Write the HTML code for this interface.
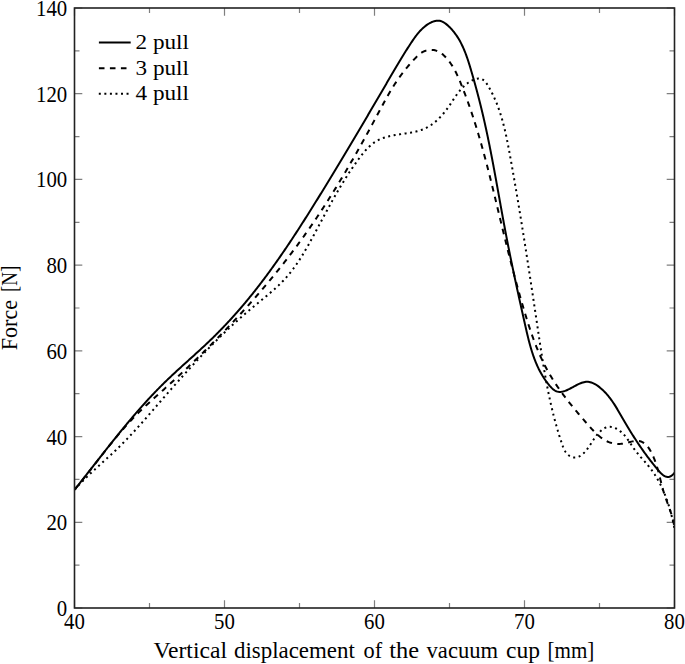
<!DOCTYPE html>
<html><head><meta charset="utf-8"><style>
html,body{margin:0;padding:0;background:#fff;width:685px;height:664px;overflow:hidden}
svg{display:block}
text{font-family:"Liberation Serif",serif;fill:#000}
</style></head><body>
<svg width="685" height="664" viewBox="0 0 685 664">
<path d="M74.50 608.00h7.8M674.50 608.00h-7.8M74.50 565.14h5M674.50 565.14h-5M74.50 522.29h7.8M674.50 522.29h-7.8M74.50 479.43h5M674.50 479.43h-5M74.50 436.57h7.8M674.50 436.57h-7.8M74.50 393.71h5M674.50 393.71h-5M74.50 350.86h7.8M674.50 350.86h-7.8M74.50 308.00h5M674.50 308.00h-5M74.50 265.14h7.8M674.50 265.14h-7.8M74.50 222.29h5M674.50 222.29h-5M74.50 179.43h7.8M674.50 179.43h-7.8M74.50 136.57h5M674.50 136.57h-5M74.50 93.71h7.8M674.50 93.71h-7.8M74.50 50.86h5M674.50 50.86h-5M74.50 8.00h7.8M674.50 8.00h-7.8M74.50 608.00v-7.8M74.50 8.00v7.8M149.50 608.00v-5M149.50 8.00v5M224.50 608.00v-7.8M224.50 8.00v7.8M299.50 608.00v-5M299.50 8.00v5M374.50 608.00v-7.8M374.50 8.00v7.8M449.50 608.00v-5M449.50 8.00v5M524.50 608.00v-7.8M524.50 8.00v7.8M599.50 608.00v-5M599.50 8.00v5M674.50 608.00v-7.8M674.50 8.00v7.8" stroke="#000" stroke-width="1.2" fill="none" opacity="0.5"/>
<text x="67.2" y="615.9" font-size="22.5" text-anchor="end" textLength="10.4" lengthAdjust="spacingAndGlyphs">0</text>
<text x="67.2" y="530.2" font-size="22.5" text-anchor="end" textLength="20.8" lengthAdjust="spacingAndGlyphs">20</text>
<text x="67.2" y="444.5" font-size="22.5" text-anchor="end" textLength="20.8" lengthAdjust="spacingAndGlyphs">40</text>
<text x="67.2" y="358.8" font-size="22.5" text-anchor="end" textLength="20.8" lengthAdjust="spacingAndGlyphs">60</text>
<text x="67.2" y="273.0" font-size="22.5" text-anchor="end" textLength="20.8" lengthAdjust="spacingAndGlyphs">80</text>
<text x="67.2" y="187.3" font-size="22.5" text-anchor="end" textLength="31.2" lengthAdjust="spacingAndGlyphs">100</text>
<text x="67.2" y="101.6" font-size="22.5" text-anchor="end" textLength="31.2" lengthAdjust="spacingAndGlyphs">120</text>
<text x="67.2" y="15.9" font-size="22.5" text-anchor="end" textLength="31.2" lengthAdjust="spacingAndGlyphs">140</text>
<text x="74.5" y="629.3" font-size="22.5" text-anchor="middle" textLength="20.8" lengthAdjust="spacingAndGlyphs">40</text>
<text x="224.5" y="629.3" font-size="22.5" text-anchor="middle" textLength="20.8" lengthAdjust="spacingAndGlyphs">50</text>
<text x="374.5" y="629.3" font-size="22.5" text-anchor="middle" textLength="20.8" lengthAdjust="spacingAndGlyphs">60</text>
<text x="524.5" y="629.3" font-size="22.5" text-anchor="middle" textLength="20.8" lengthAdjust="spacingAndGlyphs">70</text>
<text x="674.5" y="629.3" font-size="22.5" text-anchor="middle" textLength="20.8" lengthAdjust="spacingAndGlyphs">80</text>
<text x="153.60" y="658.3" font-size="22.3" textLength="73.40" lengthAdjust="spacingAndGlyphs">Vertical</text>
<text x="234.00" y="658.3" font-size="22.3" textLength="120.80" lengthAdjust="spacingAndGlyphs">displacement</text>
<text x="363.60" y="658.3" font-size="22.3" textLength="18.60" lengthAdjust="spacingAndGlyphs">of</text>
<text x="389.20" y="658.3" font-size="22.3" textLength="29.80" lengthAdjust="spacingAndGlyphs">the</text>
<text x="426.60" y="658.3" font-size="22.3" textLength="71.40" lengthAdjust="spacingAndGlyphs">vacuum</text>
<text x="506.00" y="658.3" font-size="22.3" textLength="34.00" lengthAdjust="spacingAndGlyphs">cup</text>
<text x="547.60" y="658.3" font-size="22.3" textLength="46.80" lengthAdjust="spacingAndGlyphs">[mm]</text>
<text transform="translate(17.3 350.20) rotate(-90)" font-size="22.3" textLength="50.20" lengthAdjust="spacingAndGlyphs">Force</text>
<text transform="translate(17.3 292.00) rotate(-90)" font-size="22.3" textLength="26.20" lengthAdjust="spacingAndGlyphs">[N]</text>
<clipPath id="cp"><rect x="74.5" y="8.0" width="600.0" height="600.0"/></clipPath>
<path d="M74.61 489.67L75.33 488.76L76.06 487.85L76.78 486.94L77.51 486.03L78.23 485.12L78.95 484.21L79.67 483.30L80.40 482.38L81.12 481.47L81.84 480.56L82.56 479.64L83.28 478.72L84.00 477.81L84.72 476.89L85.44 475.98L86.16 475.06L86.88 474.14L87.60 473.22L88.32 472.31L89.04 471.39L89.75 470.47L90.47 469.55L91.19 468.63L91.91 467.71L92.63 466.79L93.35 465.87L94.07 464.95L94.78 464.03L95.50 463.11L96.22 462.19L96.94 461.27L97.66 460.35L98.38 459.43L99.10 458.51L99.82 457.60L100.54 456.68L101.26 455.76L101.98 454.84L102.70 453.92L103.42 453.00L104.14 452.08L104.87 451.16L105.59 450.25L106.31 449.33L107.04 448.41L107.76 447.50L108.49 446.58L109.21 445.66L109.94 444.75L110.66 443.83L111.39 442.92L112.12 442.01L112.85 441.09L113.58 440.18L114.31 439.27L115.04 438.36L115.77 437.45L116.50 436.54L117.23 435.63L117.97 434.72L118.70 433.81L119.44 432.91L120.17 432.00L120.91 431.09L121.65 430.19L122.39 429.29L123.13 428.38L123.87 427.48L124.62 426.58L125.36 425.68L126.11 424.78L126.85 423.89L127.60 422.99L128.35 422.10L129.10 421.20L129.85 420.31L130.60 419.42L131.35 418.53L132.11 417.64L132.87 416.75L133.62 415.86L134.38 414.98L135.14 414.09L135.91 413.21L136.67 412.33L137.43 411.45L138.20 410.57L138.97 409.70L139.74 408.82L140.51 407.95L141.28 407.07L142.06 406.20L142.83 405.34L143.61 404.47L144.39 403.60L145.17 402.74L145.96 401.88L146.74 401.01L147.53 400.16L148.32 399.30L149.11 398.44L149.90 397.59L150.70 396.74L151.49 395.89L152.29 395.04L153.09 394.20L153.89 393.35L154.70 392.51L155.50 391.67L156.31 390.83L157.12 390.00L157.94 389.16L158.75 388.33L159.57 387.50L160.39 386.67L161.21 385.85L162.03 385.03L162.86 384.21L163.69 383.39L164.52 382.57L165.35 381.76L166.19 380.95L167.03 380.14L167.87 379.33L168.71 378.52L169.55 377.72L170.40 376.92L171.25 376.12L172.10 375.32L172.95 374.53L173.80 373.73L174.65 372.94L175.51 372.15L176.37 371.36L177.23 370.57L178.08 369.78L178.95 368.99L179.81 368.20L180.67 367.42L181.53 366.63L182.40 365.85L183.26 365.07L184.13 364.28L184.99 363.50L185.86 362.72L186.72 361.93L187.59 361.15L188.46 360.37L189.32 359.59L190.19 358.81L191.06 358.02L191.92 357.24L192.79 356.46L193.66 355.68L194.52 354.89L195.39 354.11L196.25 353.32L197.11 352.54L197.98 351.75L198.84 350.96L199.70 350.17L200.56 349.38L201.42 348.59L202.28 347.80L203.13 347.01L203.99 346.21L204.84 345.41L205.69 344.61L206.54 343.81L207.39 343.01L208.24 342.21L209.09 341.40L209.93 340.59L210.77 339.78L211.61 338.97L212.45 338.16L213.28 337.34L214.11 336.52L214.94 335.70L215.77 334.88L216.60 334.05L217.42 333.22L218.25 332.39L219.07 331.56L219.88 330.73L220.70 329.89L221.51 329.06L222.32 328.22L223.13 327.37L223.94 326.53L224.75 325.68L225.55 324.83L226.35 323.98L227.15 323.13L227.95 322.28L228.74 321.42L229.53 320.57L230.32 319.71L231.11 318.84L231.90 317.98L232.68 317.12L233.47 316.25L234.25 315.38L235.02 314.51L235.80 313.64L236.57 312.76L237.34 311.89L238.11 311.01L238.88 310.13L239.65 309.25L240.41 308.36L241.17 307.48L241.93 306.59L242.69 305.70L243.44 304.81L244.19 303.92L244.94 303.03L245.69 302.14L246.44 301.24L247.18 300.34L247.93 299.44L248.67 298.54L249.41 297.64L250.14 296.74L250.88 295.83L251.61 294.92L252.34 294.01L253.07 293.10L253.79 292.19L254.52 291.28L255.24 290.37L255.96 289.45L256.68 288.53L257.40 287.62L258.12 286.70L258.83 285.77L259.54 284.85L260.25 283.93L260.96 283.00L261.67 282.08L262.37 281.15L263.08 280.22L263.78 279.29L264.48 278.36L265.18 277.42L265.87 276.49L266.57 275.55L267.26 274.62L267.95 273.68L268.64 272.74L269.33 271.80L270.02 270.86L270.70 269.92L271.39 268.97L272.07 268.03L272.75 267.08L273.43 266.13L274.11 265.19L274.79 264.24L275.46 263.29L276.14 262.33L276.81 261.38L277.48 260.43L278.15 259.47L278.82 258.52L279.48 257.56L280.15 256.60L280.81 255.65L281.48 254.69L282.14 253.73L282.80 252.77L283.46 251.80L284.12 250.84L284.77 249.88L285.43 248.91L286.08 247.95L286.74 246.98L287.39 246.01L288.04 245.04L288.69 244.08L289.34 243.11L289.99 242.14L290.63 241.16L291.28 240.19L291.92 239.22L292.57 238.25L293.21 237.27L293.85 236.30L294.49 235.32L295.13 234.34L295.77 233.37L296.41 232.39L297.04 231.41L297.68 230.43L298.31 229.45L298.95 228.47L299.58 227.49L300.21 226.51L300.84 225.53L301.47 224.55L302.10 223.56L302.73 222.58L303.36 221.60L303.99 220.61L304.62 219.63L305.24 218.64L305.87 217.66L306.49 216.67L307.12 215.68L307.74 214.70L308.36 213.71L308.98 212.72L309.60 211.73L310.22 210.75L310.85 209.76L311.46 208.77L312.08 207.78L312.70 206.79L313.32 205.80L313.94 204.81L314.55 203.82L315.17 202.82L315.79 201.83L316.40 200.84L317.02 199.85L317.63 198.86L318.25 197.87L318.86 196.87L319.47 195.88L320.09 194.89L320.70 193.89L321.31 192.90L321.92 191.91L322.53 190.91L323.14 189.92L323.75 188.93L324.36 187.93L324.97 186.94L325.58 185.94L326.19 184.95L326.80 183.95L327.41 182.96L328.02 181.96L328.62 180.97L329.23 179.97L329.84 178.97L330.44 177.98L331.05 176.98L331.66 175.98L332.26 174.99L332.87 173.99L333.47 172.99L334.08 172.00L334.68 171.00L335.28 170.00L335.89 169.00L336.49 168.01L337.09 167.01L337.70 166.01L338.30 165.01L338.90 164.01L339.50 163.01L340.10 162.01L340.70 161.01L341.31 160.01L341.91 159.01L342.51 158.01L343.11 157.01L343.71 156.01L344.31 155.01L344.90 154.01L345.50 153.01L346.10 152.01L346.70 151.01L347.30 150.01L347.90 149.01L348.49 148.01L349.09 147.01L349.69 146.00L350.28 145.00L350.88 144.00L351.48 143.00L352.07 142.00L352.67 140.99L353.27 139.99L353.86 138.99L354.46 137.98L355.05 136.98L355.65 135.98L356.24 134.97L356.84 133.97L357.43 132.97L358.02 131.96L358.62 130.96L359.21 129.96L359.81 128.95L360.40 127.95L360.99 126.94L361.59 125.94L362.18 124.93L362.77 123.93L363.36 122.92L363.96 121.92L364.55 120.91L365.14 119.91L365.73 118.90L366.32 117.90L366.92 116.89L367.51 115.88L368.10 114.88L368.69 113.87L369.28 112.87L369.87 111.86L370.46 110.85L371.06 109.85L371.65 108.84L372.24 107.83L372.83 106.82L373.42 105.82L374.01 104.81L374.60 103.80L375.19 102.80L375.78 101.79L376.37 100.78L376.96 99.77L377.55 98.76L378.14 97.76L378.73 96.75L379.32 95.74L379.91 94.73L380.50 93.72L381.09 92.71L381.68 91.71L382.27 90.70L382.85 89.69L383.44 88.68L384.03 87.67L384.62 86.66L385.21 85.65L385.80 84.64L386.39 83.63L386.98 82.62L387.57 81.61L388.16 80.60L388.75 79.59L389.34 78.59L389.93 77.58L390.52 76.57L391.10 75.56L391.69 74.55L392.29 73.54L392.88 72.53L393.47 71.52L394.06 70.51L394.65 69.51L395.24 68.50L395.84 67.49L396.43 66.49L397.03 65.48L397.63 64.48L398.23 63.48L398.82 62.48L399.42 61.48L400.03 60.48L400.63 59.48L401.23 58.49L401.84 57.49L402.45 56.50L403.06 55.51L403.67 54.52L404.28 53.53L404.90 52.55L405.51 51.56L406.13 50.58L406.75 49.60L407.38 48.62L408.00 47.65L408.63 46.68L409.26 45.70L409.89 44.74L410.53 43.77L411.16 42.81L411.80 41.85L412.45 40.89L413.10 39.93L413.75 38.98L414.41 38.04L415.08 37.10L415.77 36.17L416.47 35.25L417.18 34.34L417.91 33.43L418.66 32.54L419.43 31.66L420.22 30.79L421.04 29.94L421.89 29.10L422.76 28.28L423.66 27.47L424.60 26.68L425.57 25.91L426.57 25.16L427.60 24.44L428.66 23.76L429.73 23.12L430.83 22.54L431.93 22.02L433.04 21.57L434.16 21.20L435.27 20.92L436.38 20.73L437.48 20.64L438.56 20.67L439.63 20.81L440.67 21.06L441.70 21.42L442.70 21.86L443.69 22.39L444.66 22.98L445.60 23.65L446.52 24.36L447.43 25.12L448.31 25.91L449.17 26.73L450.00 27.56L450.82 28.41L451.61 29.27L452.38 30.15L453.14 31.03L453.87 31.94L454.58 32.85L455.27 33.78L455.95 34.72L456.61 35.67L457.25 36.63L457.87 37.60L458.48 38.59L459.07 39.58L459.64 40.58L460.20 41.60L460.74 42.62L461.27 43.65L461.79 44.69L462.29 45.73L462.79 46.79L463.26 47.85L463.73 48.92L464.19 49.99L464.63 51.07L465.07 52.16L465.49 53.25L465.91 54.35L466.31 55.45L466.71 56.56L467.10 57.67L467.48 58.78L467.86 59.90L468.23 61.02L468.59 62.14L468.95 63.27L469.30 64.39L469.65 65.52L469.99 66.65L470.33 67.78L470.67 68.91L471.00 70.04L471.34 71.17L471.67 72.30L472.00 73.43L472.32 74.56L472.65 75.69L472.97 76.81L473.29 77.94L473.61 79.07L473.93 80.19L474.25 81.32L474.56 82.44L474.87 83.57L475.19 84.69L475.49 85.82L475.80 86.94L476.11 88.06L476.41 89.19L476.71 90.31L477.01 91.44L477.31 92.56L477.61 93.68L477.90 94.81L478.20 95.93L478.49 97.06L478.78 98.18L479.07 99.30L479.36 100.43L479.64 101.55L479.92 102.68L480.21 103.80L480.49 104.93L480.77 106.05L481.04 107.18L481.32 108.31L481.59 109.44L481.86 110.56L482.13 111.69L482.40 112.82L482.67 113.95L482.93 115.08L483.20 116.21L483.46 117.34L483.72 118.47L483.98 119.61L484.24 120.74L484.49 121.87L484.75 123.01L485.00 124.14L485.25 125.28L485.50 126.41L485.75 127.55L486.00 128.69L486.25 129.83L486.49 130.96L486.74 132.10L486.98 133.24L487.22 134.38L487.46 135.52L487.70 136.66L487.94 137.80L488.17 138.94L488.41 140.09L488.64 141.23L488.87 142.37L489.11 143.52L489.34 144.66L489.57 145.80L489.80 146.95L490.02 148.09L490.25 149.24L490.48 150.38L490.70 151.53L490.93 152.68L491.15 153.82L491.37 154.97L491.59 156.12L491.81 157.26L492.03 158.41L492.25 159.56L492.47 160.71L492.69 161.86L492.91 163.00L493.12 164.15L493.34 165.30L493.56 166.45L493.77 167.60L493.98 168.75L494.20 169.90L494.41 171.05L494.62 172.20L494.83 173.35L495.05 174.50L495.26 175.65L495.47 176.81L495.68 177.96L495.89 179.11L496.10 180.26L496.31 181.41L496.52 182.56L496.72 183.71L496.93 184.86L497.14 186.02L497.35 187.17L497.56 188.32L497.76 189.47L497.97 190.62L498.18 191.77L498.38 192.93L498.59 194.08L498.80 195.23L499.00 196.38L499.21 197.53L499.42 198.68L499.63 199.83L499.83 200.99L500.04 202.14L500.25 203.29L500.45 204.44L500.66 205.59L500.87 206.74L501.08 207.89L501.28 209.04L501.49 210.19L501.70 211.34L501.91 212.49L502.12 213.64L502.33 214.79L502.53 215.94L502.74 217.09L502.95 218.24L503.17 219.38L503.38 220.53L503.59 221.68L503.80 222.83L504.01 223.98L504.22 225.12L504.44 226.27L504.65 227.42L504.87 228.56L505.08 229.71L505.30 230.85L505.51 232.00L505.73 233.14L505.95 234.29L506.17 235.43L506.39 236.57L506.61 237.72L506.83 238.86L507.05 240.00L507.27 241.14L507.49 242.29L507.72 243.43L507.94 244.57L508.16 245.71L508.39 246.85L508.62 247.99L508.84 249.13L509.07 250.27L509.30 251.41L509.53 252.55L509.76 253.69L509.99 254.83L510.22 255.97L510.45 257.10L510.68 258.24L510.91 259.38L511.15 260.52L511.38 261.66L511.61 262.80L511.85 263.93L512.08 265.07L512.32 266.21L512.56 267.35L512.79 268.48L513.03 269.62L513.27 270.76L513.51 271.89L513.75 273.03L513.99 274.17L514.23 275.31L514.47 276.44L514.71 277.58L514.95 278.72L515.20 279.85L515.44 280.99L515.68 282.13L515.93 283.27L516.17 284.40L516.42 285.54L516.66 286.68L516.91 287.82L517.15 288.95L517.40 290.09L517.65 291.23L517.90 292.37L518.15 293.51L518.39 294.65L518.64 295.79L518.89 296.92L519.14 298.06L519.39 299.20L519.64 300.34L519.90 301.48L520.15 302.62L520.40 303.77L520.65 304.91L520.91 306.05L521.16 307.19L521.41 308.33L521.67 309.47L521.92 310.62L522.18 311.76L522.43 312.90L522.69 314.05L522.94 315.19L523.20 316.33L523.46 317.48L523.71 318.62L523.97 319.77L524.23 320.92L524.49 322.06L524.74 323.21L525.00 324.36L525.26 325.51L525.52 326.65L525.78 327.80L526.04 328.95L526.31 330.10L526.57 331.25L526.84 332.40L527.11 333.54L527.38 334.69L527.65 335.84L527.93 336.98L528.21 338.12L528.49 339.27L528.78 340.41L529.08 341.54L529.38 342.68L529.68 343.82L529.99 344.95L530.30 346.08L530.62 347.20L530.95 348.33L531.28 349.45L531.62 350.57L531.97 351.68L532.33 352.80L532.69 353.90L533.06 355.01L533.44 356.11L533.83 357.20L534.23 358.30L534.63 359.38L535.05 360.47L535.48 361.54L535.91 362.62L536.36 363.69L536.82 364.75L537.29 365.81L537.77 366.86L538.26 367.90L538.76 368.95L539.28 369.98L539.81 371.01L540.36 372.03L540.91 373.04L541.48 374.05L542.07 375.05L542.66 376.05L543.28 377.03L543.90 378.01L544.55 378.99L545.21 379.95L545.88 380.91L546.57 381.85L547.28 382.79L548.00 383.73L548.74 384.65L549.50 385.56L550.28 386.45L551.07 387.32L551.89 388.14L552.73 388.92L553.60 389.63L554.49 390.26L555.41 390.81L556.36 391.27L557.34 391.62L558.35 391.86L559.39 391.96L560.46 391.95L561.56 391.83L562.68 391.61L563.82 391.30L564.97 390.91L566.12 390.47L567.28 389.96L568.44 389.42L569.60 388.85L570.74 388.25L571.88 387.65L573.00 387.04L574.12 386.43L575.23 385.84L576.33 385.25L577.43 384.69L578.52 384.16L579.60 383.67L580.68 383.22L581.75 382.81L582.82 382.47L583.89 382.18L584.95 381.97L586.02 381.83L587.08 381.78L588.14 381.82L589.20 381.95L590.26 382.17L591.31 382.48L592.36 382.86L593.41 383.31L594.44 383.83L595.46 384.40L596.47 385.02L597.46 385.69L598.44 386.40L599.40 387.13L600.33 387.90L601.25 388.68L602.14 389.47L603.01 390.28L603.87 391.11L604.70 391.95L605.51 392.81L606.30 393.67L607.08 394.55L607.84 395.45L608.58 396.35L609.31 397.27L610.02 398.19L610.72 399.12L611.41 400.07L612.09 401.02L612.75 401.98L613.40 402.95L614.04 403.92L614.68 404.91L615.30 405.89L615.92 406.89L616.53 407.88L617.13 408.88L617.73 409.89L618.32 410.89L618.91 411.90L619.50 412.91L620.09 413.93L620.67 414.94L621.25 415.95L621.83 416.97L622.41 417.98L623.00 418.99L623.58 419.99L624.17 421.00L624.76 422.01L625.35 423.01L625.94 424.01L626.54 425.01L627.13 426.01L627.73 427.00L628.33 428.00L628.93 428.99L629.54 429.98L630.14 430.97L630.75 431.96L631.37 432.95L631.98 433.93L632.60 434.91L633.22 435.89L633.84 436.87L634.47 437.85L635.10 438.83L635.73 439.80L636.36 440.77L637.00 441.74L637.65 442.71L638.29 443.68L638.94 444.64L639.59 445.61L640.25 446.57L640.91 447.53L641.57 448.49L642.24 449.44L642.91 450.40L643.59 451.35L644.27 452.30L644.95 453.25L645.64 454.20L646.34 455.14L647.03 456.09L647.74 457.03L648.44 457.97L649.15 458.91L649.87 459.84L650.59 460.78L651.32 461.71L652.05 462.64L652.79 463.57L653.53 464.50L654.27 465.42L655.03 466.34L655.78 467.27L656.55 468.18L657.32 469.10L658.09 470.02L658.87 470.93L659.66 471.83L660.46 472.71L661.27 473.55L662.09 474.33L662.94 475.04L663.80 475.66L664.69 476.18L665.60 476.58L666.54 476.85L667.52 476.97L668.52 476.92L669.54 476.70L670.58 476.28L671.63 475.66L672.68 474.83L673.74 473.75L674.78 472.43" fill="none" stroke="#000" stroke-width="2.0" clip-path="url(#cp)"/>
<path d="M74.54 489.64L75.28 488.76L76.01 487.88L76.74 487.00L77.47 486.12L78.19 485.23L78.92 484.35L79.64 483.46L80.36 482.57L81.08 481.68L81.80 480.79L82.52 479.90L83.23 479.00L83.94 478.11L84.66 477.21L85.37 476.32L86.08 475.42L86.79 474.52L87.50 473.62L88.20 472.72L88.91 471.82L89.61 470.92L90.32 470.02L91.02 469.12L91.73 468.21L92.43 467.31L93.13 466.41L93.84 465.50L94.54 464.60L95.24 463.70L95.94 462.79L96.64 461.89L97.35 460.99L98.05 460.08L98.75 459.18L99.45 458.28L100.15 457.37L100.86 456.47L101.56 455.57L102.26 454.67L102.97 453.77L103.67 452.87L104.38 451.97L105.09 451.07L105.79 450.17L106.50 449.27L107.21 448.38L107.92 447.48L108.63 446.59L109.35 445.69L110.06 444.80L110.77 443.91L111.49 443.02L112.21 442.13L112.93 441.25L113.65 440.36L114.37 439.48L115.10 438.60L115.83 437.72L116.55 436.84L117.28 435.96L118.02 435.09L118.75 434.21L119.49 433.34L120.23 432.47L120.97 431.61L121.71 430.74L122.46 429.88L123.21 429.02L123.96 428.16L124.71 427.30L125.47 426.45L126.23 425.60L126.99 424.75L127.76 423.91L128.53 423.06L129.30 422.22L130.07 421.39L130.85 420.55L131.63 419.72L132.42 418.89L133.20 418.07L134.00 417.24L134.79 416.42L135.59 415.61L136.39 414.80L137.20 413.99L138.01 413.18L138.82 412.38L139.64 411.58L140.46 410.78L141.28 409.99L142.11 409.20L142.94 408.41L143.77 407.62L144.61 406.84L145.44 406.06L146.28 405.28L147.12 404.50L147.97 403.72L148.81 402.95L149.66 402.17L150.51 401.40L151.35 400.63L152.20 399.86L153.06 399.10L153.91 398.33L154.76 397.56L155.61 396.79L156.47 396.03L157.32 395.26L158.18 394.50L159.03 393.73L159.88 392.97L160.74 392.20L161.59 391.44L162.44 390.67L163.29 389.90L164.14 389.14L164.99 388.37L165.84 387.60L166.69 386.83L167.54 386.06L168.39 385.29L169.23 384.52L170.08 383.75L170.92 382.98L171.77 382.21L172.61 381.43L173.45 380.66L174.30 379.89L175.14 379.11L175.98 378.34L176.82 377.56L177.66 376.79L178.49 376.01L179.33 375.23L180.17 374.45L181.00 373.67L181.84 372.89L182.67 372.11L183.51 371.33L184.34 370.55L185.17 369.77L186.00 368.99L186.83 368.20L187.66 367.42L188.49 366.63L189.32 365.85L190.15 365.06L190.97 364.28L191.80 363.49L192.62 362.70L193.45 361.91L194.27 361.12L195.09 360.33L195.92 359.54L196.74 358.75L197.56 357.95L198.38 357.16L199.20 356.36L200.01 355.57L200.83 354.77L201.65 353.98L202.46 353.18L203.28 352.38L204.09 351.58L204.91 350.78L205.72 349.98L206.53 349.18L207.34 348.37L208.15 347.57L208.96 346.76L209.77 345.96L210.58 345.15L211.38 344.34L212.19 343.54L212.99 342.73L213.80 341.92L214.60 341.11L215.40 340.29L216.21 339.48L217.01 338.67L217.81 337.85L218.61 337.04L219.40 336.22L220.20 335.40L221.00 334.58L221.79 333.76L222.59 332.94L223.38 332.12L224.18 331.30L224.97 330.48L225.76 329.65L226.55 328.83L227.34 328.00L228.13 327.17L228.92 326.34L229.71 325.51L230.49 324.68L231.28 323.85L232.06 323.02L232.85 322.19L233.63 321.35L234.41 320.52L235.19 319.68L235.97 318.85L236.75 318.01L237.53 317.17L238.30 316.33L239.08 315.49L239.85 314.65L240.63 313.80L241.40 312.96L242.17 312.12L242.94 311.27L243.71 310.42L244.48 309.58L245.25 308.73L246.02 307.88L246.78 307.03L247.55 306.18L248.31 305.32L249.07 304.47L249.83 303.62L250.59 302.76L251.35 301.91L252.11 301.05L252.87 300.19L253.63 299.33L254.38 298.47L255.13 297.61L255.89 296.75L256.64 295.88L257.39 295.02L258.14 294.16L258.89 293.29L259.63 292.42L260.38 291.55L261.12 290.68L261.87 289.81L262.61 288.94L263.35 288.07L264.09 287.20L264.83 286.33L265.57 285.45L266.31 284.57L267.04 283.70L267.78 282.82L268.51 281.94L269.24 281.06L269.97 280.18L270.70 279.30L271.43 278.42L272.16 277.53L272.88 276.65L273.61 275.76L274.33 274.87L275.05 273.99L275.77 273.10L276.49 272.21L277.21 271.32L277.93 270.43L278.64 269.53L279.36 268.64L280.07 267.74L280.78 266.85L281.49 265.95L282.20 265.05L282.91 264.16L283.62 263.26L284.32 262.35L285.02 261.45L285.73 260.55L286.43 259.65L287.13 258.74L287.83 257.84L288.52 256.93L289.22 256.02L289.91 255.11L290.61 254.20L291.30 253.29L291.99 252.38L292.68 251.47L293.36 250.55L294.05 249.64L294.73 248.72L295.42 247.81L296.10 246.89L296.78 245.97L297.46 245.05L298.14 244.13L298.81 243.21L299.49 242.28L300.16 241.36L300.83 240.44L301.50 239.51L302.17 238.58L302.84 237.65L303.50 236.73L304.17 235.80L304.83 234.86L305.49 233.93L306.15 233.00L306.81 232.07L307.46 231.13L308.12 230.19L308.77 229.26L309.43 228.32L310.08 227.38L310.73 226.44L311.37 225.50L312.02 224.56L312.67 223.62L313.31 222.67L313.95 221.73L314.59 220.78L315.23 219.84L315.87 218.89L316.51 217.94L317.15 216.99L317.78 216.04L318.41 215.09L319.05 214.14L319.68 213.19L320.31 212.23L320.93 211.28L321.56 210.32L322.19 209.37L322.81 208.41L323.43 207.45L324.05 206.49L324.67 205.53L325.29 204.57L325.91 203.61L326.53 202.65L327.14 201.69L327.76 200.73L328.37 199.76L328.98 198.80L329.59 197.83L330.20 196.86L330.81 195.90L331.42 194.93L332.02 193.96L332.63 192.99L333.23 192.02L333.84 191.05L334.44 190.08L335.04 189.11L335.64 188.13L336.24 187.16L336.83 186.18L337.43 185.21L338.02 184.23L338.62 183.26L339.21 182.28L339.80 181.30L340.39 180.32L340.98 179.34L341.57 178.36L342.16 177.38L342.75 176.40L343.33 175.42L343.92 174.44L344.50 173.45L345.08 172.47L345.67 171.49L346.25 170.50L346.83 169.52L347.41 168.53L347.98 167.54L348.56 166.55L349.14 165.57L349.71 164.58L350.29 163.59L350.86 162.60L351.43 161.61L352.01 160.62L352.58 159.63L353.15 158.64L353.72 157.64L354.29 156.65L354.85 155.66L355.42 154.66L355.99 153.67L356.55 152.67L357.12 151.68L357.68 150.68L358.24 149.69L358.80 148.69L359.37 147.69L359.93 146.70L360.49 145.70L361.04 144.70L361.60 143.70L362.16 142.70L362.72 141.70L363.27 140.70L363.83 139.70L364.38 138.70L364.94 137.70L365.49 136.70L366.04 135.69L366.60 134.69L367.15 133.69L367.70 132.68L368.25 131.68L368.80 130.68L369.35 129.67L369.89 128.67L370.44 127.66L370.99 126.66L371.54 125.65L372.08 124.64L372.63 123.64L373.17 122.63L373.72 121.62L374.26 120.62L374.80 119.61L375.34 118.60L375.89 117.59L376.43 116.58L376.97 115.58L377.51 114.57L378.05 113.56L378.59 112.55L379.13 111.54L379.67 110.53L380.21 109.52L380.75 108.51L381.29 107.50L381.83 106.49L382.37 105.48L382.91 104.48L383.46 103.47L384.00 102.47L384.55 101.47L385.10 100.46L385.65 99.46L386.21 98.47L386.77 97.47L387.33 96.48L387.89 95.48L388.46 94.49L389.03 93.51L389.60 92.52L390.18 91.54L390.76 90.56L391.35 89.59L391.94 88.61L392.53 87.64L393.14 86.68L393.74 85.72L394.35 84.76L394.97 83.80L395.60 82.85L396.22 81.91L396.86 80.96L397.50 80.02L398.15 79.09L398.80 78.16L399.46 77.23L400.13 76.31L400.80 75.39L401.48 74.47L402.17 73.56L402.86 72.65L403.56 71.75L404.27 70.84L404.98 69.95L405.70 69.05L406.43 68.16L407.16 67.27L407.91 66.39L408.65 65.51L409.41 64.63L410.18 63.75L410.95 62.88L411.73 62.01L412.51 61.15L413.31 60.29L414.11 59.43L414.92 58.57L415.74 57.72L416.58 56.88L417.42 56.06L418.28 55.27L419.16 54.50L420.06 53.78L420.98 53.10L421.93 52.47L422.91 51.90L423.92 51.40L424.95 50.97L426.02 50.60L427.10 50.31L428.21 50.09L429.33 49.95L430.45 49.87L431.58 49.87L432.71 49.94L433.83 50.08L434.94 50.30L436.03 50.59L437.11 50.95L438.16 51.39L439.18 51.90L440.17 52.49L441.13 53.14L442.05 53.85L442.95 54.61L443.82 55.40L444.66 56.21L445.47 57.04L446.26 57.88L447.03 58.74L447.77 59.62L448.50 60.51L449.20 61.41L449.88 62.32L450.54 63.25L451.18 64.19L451.81 65.13L452.42 66.09L453.01 67.06L453.58 68.04L454.14 69.03L454.69 70.03L455.22 71.03L455.74 72.04L456.25 73.06L456.75 74.09L457.23 75.12L457.71 76.16L458.18 77.20L458.64 78.25L459.10 79.30L459.54 80.35L459.99 81.41L460.42 82.46L460.86 83.53L461.28 84.59L461.71 85.65L462.14 86.71L462.56 87.78L462.97 88.85L463.39 89.91L463.80 90.98L464.21 92.05L464.62 93.12L465.03 94.19L465.43 95.26L465.83 96.33L466.23 97.40L466.62 98.48L467.02 99.55L467.41 100.63L467.80 101.71L468.18 102.78L468.56 103.86L468.94 104.94L469.32 106.02L469.70 107.10L470.07 108.18L470.45 109.26L470.81 110.34L471.18 111.43L471.55 112.51L471.91 113.60L472.27 114.68L472.63 115.77L472.99 116.86L473.34 117.94L473.69 119.03L474.04 120.12L474.39 121.21L474.74 122.30L475.08 123.39L475.43 124.48L475.77 125.57L476.11 126.67L476.44 127.76L476.78 128.85L477.11 129.95L477.44 131.04L477.77 132.14L478.10 133.24L478.43 134.33L478.75 135.43L479.08 136.53L479.40 137.63L479.72 138.72L480.04 139.82L480.36 140.92L480.67 142.02L480.98 143.12L481.30 144.23L481.61 145.33L481.92 146.43L482.23 147.53L482.53 148.63L482.84 149.74L483.14 150.84L483.44 151.95L483.74 153.05L484.04 154.15L484.34 155.26L484.64 156.37L484.94 157.47L485.23 158.58L485.53 159.68L485.82 160.79L486.11 161.90L486.40 163.01L486.69 164.11L486.98 165.22L487.27 166.33L487.55 167.44L487.84 168.55L488.13 169.66L488.41 170.77L488.69 171.88L488.97 172.99L489.26 174.10L489.54 175.21L489.82 176.32L490.09 177.43L490.37 178.54L490.65 179.65L490.93 180.76L491.20 181.87L491.48 182.98L491.75 184.09L492.03 185.20L492.30 186.32L492.57 187.43L492.84 188.54L493.12 189.65L493.39 190.76L493.66 191.87L493.93 192.99L494.20 194.10L494.47 195.21L494.74 196.32L495.01 197.43L495.28 198.55L495.54 199.66L495.81 200.77L496.08 201.88L496.35 202.99L496.61 204.11L496.88 205.22L497.15 206.33L497.41 207.44L497.68 208.55L497.95 209.67L498.21 210.78L498.48 211.89L498.75 213.00L499.01 214.11L499.28 215.22L499.55 216.33L499.81 217.44L500.08 218.55L500.35 219.66L500.62 220.77L500.88 221.88L501.15 222.99L501.42 224.10L501.69 225.21L501.95 226.32L502.22 227.43L502.49 228.54L502.76 229.65L503.03 230.75L503.30 231.86L503.57 232.97L503.84 234.08L504.11 235.19L504.38 236.29L504.65 237.40L504.92 238.51L505.20 239.61L505.47 240.72L505.74 241.83L506.02 242.93L506.29 244.04L506.56 245.15L506.84 246.25L507.11 247.36L507.39 248.46L507.67 249.57L507.94 250.67L508.22 251.78L508.50 252.88L508.78 253.99L509.06 255.09L509.34 256.20L509.62 257.30L509.90 258.41L510.18 259.51L510.46 260.62L510.75 261.72L511.03 262.83L511.32 263.93L511.60 265.03L511.89 266.14L512.17 267.24L512.46 268.35L512.75 269.45L513.04 270.55L513.33 271.66L513.62 272.76L513.91 273.86L514.21 274.97L514.50 276.07L514.79 277.17L515.09 278.28L515.38 279.38L515.68 280.48L515.98 281.59L516.28 282.69L516.58 283.79L516.88 284.90L517.18 286.00L517.48 287.10L517.79 288.21L518.09 289.31L518.40 290.41L518.71 291.52L519.01 292.62L519.32 293.72L519.63 294.83L519.94 295.93L520.26 297.03L520.57 298.14L520.88 299.24L521.20 300.35L521.52 301.45L521.84 302.55L522.15 303.66L522.48 304.76L522.80 305.86L523.12 306.97L523.44 308.07L523.77 309.18L524.10 310.28L524.43 311.38L524.76 312.49L525.09 313.59L525.42 314.69L525.76 315.80L526.09 316.90L526.43 318.00L526.77 319.10L527.12 320.20L527.46 321.30L527.81 322.40L528.16 323.50L528.51 324.60L528.87 325.70L529.22 326.79L529.58 327.89L529.95 328.98L530.31 330.07L530.68 331.16L531.05 332.25L531.43 333.34L531.81 334.43L532.19 335.51L532.57 336.60L532.96 337.68L533.35 338.76L533.75 339.84L534.15 340.91L534.55 341.98L534.96 343.06L535.37 344.13L535.79 345.19L536.21 346.26L536.63 347.32L537.06 348.38L537.49 349.44L537.93 350.50L538.37 351.55L538.82 352.60L539.27 353.65L539.73 354.69L540.19 355.73L540.65 356.77L541.13 357.81L541.60 358.84L542.08 359.87L542.57 360.89L543.07 361.92L543.56 362.93L544.07 363.95L544.58 364.96L545.09 365.97L545.61 366.98L546.14 367.98L546.68 368.97L547.22 369.97L547.76 370.96L548.31 371.94L548.87 372.92L549.44 373.90L550.01 374.88L550.58 375.85L551.16 376.82L551.75 377.78L552.34 378.74L552.94 379.70L553.54 380.65L554.15 381.60L554.77 382.55L555.39 383.50L556.01 384.44L556.64 385.38L557.28 386.32L557.92 387.25L558.56 388.18L559.21 389.11L559.87 390.04L560.53 390.96L561.19 391.88L561.86 392.80L562.53 393.72L563.20 394.64L563.89 395.55L564.57 396.46L565.26 397.37L565.95 398.28L566.65 399.18L567.35 400.09L568.05 400.99L568.76 401.89L569.47 402.79L570.19 403.69L570.91 404.59L571.63 405.48L572.36 406.38L573.09 407.27L573.82 408.17L574.55 409.06L575.29 409.95L576.03 410.84L576.78 411.73L577.52 412.62L578.27 413.51L579.03 414.40L579.78 415.28L580.54 416.17L581.30 417.06L582.06 417.95L582.82 418.83L583.59 419.72L584.36 420.61L585.13 421.49L585.90 422.38L586.68 423.27L587.45 424.16L588.23 425.04L589.01 425.93L589.80 426.81L590.58 427.69L591.38 428.56L592.17 429.42L592.98 430.27L593.78 431.11L594.60 431.94L595.42 432.75L596.25 433.55L597.09 434.33L597.93 435.09L598.79 435.83L599.66 436.54L600.53 437.24L601.42 437.90L602.32 438.54L603.23 439.15L604.15 439.73L605.09 440.28L606.04 440.80L607.00 441.28L607.98 441.73L608.97 442.13L609.98 442.50L611.00 442.83L612.04 443.12L613.09 443.36L614.16 443.57L615.24 443.73L616.33 443.85L617.43 443.92L618.55 443.95L619.68 443.93L620.81 443.86L621.96 443.75L623.12 443.59L624.30 443.38L625.47 443.12L626.66 442.84L627.84 442.54L629.02 442.23L630.20 441.93L631.37 441.64L632.52 441.37L633.66 441.14L634.79 440.96L635.89 440.84L636.97 440.79L638.02 440.82L639.03 440.95L640.02 441.17L640.98 441.47L641.90 441.86L642.80 442.33L643.66 442.87L644.50 443.48L645.31 444.17L646.09 444.91L646.85 445.71L647.58 446.56L648.28 447.47L648.96 448.42L649.61 449.41L650.24 450.44L650.85 451.50L651.43 452.59L651.99 453.70L652.53 454.84L653.05 455.98L653.54 457.14L654.02 458.31L654.48 459.48L654.91 460.65L655.33 461.81L655.74 462.96L656.12 464.11L656.49 465.24L656.85 466.37L657.19 467.48L657.52 468.59L657.83 469.70L658.14 470.79L658.44 471.88L658.73 472.97L659.01 474.04L659.28 475.12L659.55 476.19L659.82 477.26L660.08 478.32L660.34 479.38L660.61 480.44L660.87 481.50L661.13 482.55L661.39 483.61L661.66 484.66L661.93 485.72L662.21 486.78L662.49 487.84L662.78 488.90L663.08 489.96L663.39 491.03L663.71 492.10L664.05 493.17L664.39 494.25L664.75 495.33L665.11 496.42L665.49 497.51L665.88 498.61L666.27 499.70L666.66 500.80L667.07 501.91L667.47 503.01L667.87 504.12L668.28 505.23L668.68 506.34L669.08 507.46L669.48 508.57L669.87 509.68L670.26 510.80L670.63 511.92L671.00 513.03L671.36 514.15L671.70 515.26L672.04 516.37L672.35 517.49L672.66 518.60L672.94 519.70L673.21 520.81L673.45 521.92L673.68 523.02L673.88 524.12L674.06 525.21L674.21 526.30L674.34 527.39L674.44 528.48" fill="none" stroke="#000" stroke-width="2.0" stroke-dasharray="5.6 5.4" clip-path="url(#cp)"/>
<path d="M74.57 489.66L75.34 488.79L76.13 487.93L76.91 487.07L77.71 486.22L78.51 485.37L79.31 484.53L80.11 483.69L80.92 482.85L81.74 482.02L82.56 481.19L83.38 480.37L84.21 479.55L85.04 478.73L85.87 477.92L86.70 477.11L87.54 476.30L88.38 475.49L89.23 474.69L90.07 473.88L90.92 473.08L91.77 472.29L92.62 471.49L93.48 470.70L94.34 469.91L95.19 469.11L96.05 468.33L96.91 467.54L97.77 466.75L98.63 465.96L99.50 465.18L100.36 464.39L101.22 463.61L102.09 462.82L102.95 462.04L103.81 461.25L104.68 460.47L105.54 459.68L106.40 458.89L107.26 458.11L108.12 457.32L108.98 456.53L109.84 455.74L110.70 454.95L111.55 454.15L112.41 453.36L113.26 452.56L114.11 451.77L114.96 450.97L115.80 450.16L116.64 449.36L117.48 448.55L118.32 447.74L119.15 446.93L119.98 446.11L120.81 445.29L121.64 444.47L122.46 443.65L123.28 442.82L124.10 441.99L124.91 441.16L125.72 440.33L126.53 439.49L127.34 438.65L128.14 437.81L128.94 436.97L129.74 436.12L130.54 435.27L131.33 434.42L132.13 433.57L132.92 432.72L133.71 431.86L134.50 431.01L135.28 430.15L136.06 429.29L136.85 428.43L137.63 427.56L138.41 426.70L139.18 425.83L139.96 424.96L140.74 424.09L141.51 423.22L142.28 422.35L143.05 421.48L143.82 420.61L144.59 419.73L145.36 418.86L146.13 417.98L146.89 417.10L147.66 416.23L148.43 415.35L149.19 414.47L149.95 413.59L150.72 412.71L151.48 411.83L152.24 410.95L153.01 410.06L153.77 409.18L154.53 408.30L155.29 407.42L156.05 406.54L156.81 405.66L157.58 404.77L158.34 403.89L159.10 403.01L159.86 402.13L160.63 401.25L161.39 400.37L162.15 399.49L162.92 398.61L163.68 397.72L164.45 396.85L165.21 395.97L165.98 395.09L166.74 394.21L167.51 393.33L168.28 392.45L169.04 391.57L169.81 390.70L170.58 389.82L171.35 388.95L172.12 388.07L172.89 387.19L173.66 386.32L174.43 385.45L175.20 384.57L175.97 383.70L176.75 382.83L177.52 381.96L178.29 381.09L179.07 380.22L179.84 379.35L180.62 378.48L181.40 377.61L182.17 376.74L182.95 375.88L183.73 375.01L184.51 374.14L185.29 373.28L186.08 372.42L186.86 371.55L187.64 370.69L188.43 369.83L189.21 368.97L190.00 368.11L190.78 367.25L191.57 366.40L192.36 365.54L193.15 364.68L193.94 363.83L194.73 362.98L195.52 362.12L196.32 361.27L197.11 360.42L197.91 359.57L198.71 358.72L199.50 357.88L200.30 357.03L201.10 356.18L201.90 355.34L202.71 354.50L203.51 353.66L204.31 352.82L205.12 351.98L205.93 351.14L206.74 350.30L207.54 349.47L208.36 348.63L209.17 347.80L209.98 346.97L210.79 346.14L211.61 345.31L212.43 344.48L213.25 343.65L214.07 342.83L214.89 342.01L215.71 341.18L216.53 340.36L217.36 339.54L218.19 338.73L219.01 337.91L219.84 337.10L220.67 336.28L221.51 335.47L222.34 334.66L223.18 333.85L224.01 333.05L224.85 332.24L225.69 331.44L226.53 330.63L227.38 329.83L228.22 329.04L229.07 328.24L229.92 327.44L230.77 326.65L231.62 325.86L232.47 325.07L233.33 324.28L234.18 323.49L235.04 322.71L235.90 321.93L236.76 321.14L237.63 320.37L238.49 319.59L239.36 318.81L240.23 318.04L241.10 317.27L241.97 316.50L242.85 315.73L243.72 314.97L244.60 314.20L245.48 313.44L246.36 312.68L247.25 311.92L248.13 311.17L249.02 310.41L249.91 309.66L250.80 308.91L251.70 308.17L252.59 307.42L253.49 306.68L254.39 305.94L255.29 305.20L256.20 304.46L257.10 303.72L258.00 302.99L258.91 302.25L259.81 301.52L260.72 300.78L261.62 300.05L262.52 299.31L263.43 298.57L264.33 297.83L265.22 297.09L266.12 296.35L267.02 295.61L267.91 294.86L268.80 294.11L269.69 293.36L270.57 292.61L271.45 291.85L272.33 291.09L273.20 290.32L274.07 289.56L274.93 288.78L275.79 288.00L276.64 287.22L277.49 286.43L278.33 285.64L279.17 284.84L280.00 284.03L280.82 283.22L281.64 282.40L282.45 281.57L283.25 280.74L284.04 279.90L284.83 279.05L285.60 278.19L286.37 277.33L287.13 276.45L287.89 275.57L288.63 274.68L289.37 273.79L290.10 272.89L290.82 271.98L291.54 271.06L292.24 270.14L292.95 269.21L293.64 268.27L294.33 267.33L295.01 266.39L295.69 265.43L296.35 264.48L297.02 263.51L297.67 262.54L298.33 261.57L298.97 260.59L299.61 259.61L300.25 258.62L300.88 257.63L301.50 256.64L302.12 255.64L302.74 254.63L303.35 253.63L303.96 252.62L304.56 251.61L305.16 250.59L305.76 249.57L306.35 248.55L306.94 247.53L307.52 246.51L308.10 245.48L308.68 244.45L309.26 243.42L309.83 242.39L310.40 241.36L310.97 240.32L311.53 239.29L312.10 238.25L312.66 237.22L313.22 236.18L313.78 235.15L314.33 234.11L314.89 233.08L315.44 232.04L315.99 231.01L316.55 229.97L317.10 228.94L317.65 227.91L318.20 226.88L318.75 225.85L319.29 224.82L319.84 223.79L320.39 222.76L320.94 221.74L321.48 220.71L322.03 219.68L322.58 218.66L323.13 217.64L323.67 216.61L324.22 215.59L324.77 214.57L325.32 213.55L325.87 212.53L326.42 211.51L326.97 210.50L327.52 209.48L328.07 208.46L328.63 207.45L329.18 206.44L329.73 205.42L330.29 204.41L330.85 203.40L331.41 202.39L331.97 201.38L332.53 200.37L333.09 199.37L333.66 198.36L334.23 197.35L334.80 196.35L335.37 195.35L335.94 194.35L336.52 193.34L337.09 192.34L337.67 191.35L338.25 190.35L338.84 189.35L339.43 188.35L340.02 187.36L340.61 186.37L341.20 185.37L341.80 184.38L342.40 183.39L343.01 182.40L343.62 181.41L344.23 180.43L344.84 179.44L345.46 178.45L346.08 177.47L346.70 176.49L347.33 175.51L347.96 174.53L348.60 173.55L349.24 172.57L349.88 171.59L350.53 170.61L351.18 169.64L351.84 168.67L352.50 167.69L353.16 166.72L353.83 165.75L354.51 164.78L355.19 163.82L355.87 162.85L356.56 161.89L357.25 160.92L357.95 159.96L358.65 159.00L359.36 158.04L360.08 157.09L360.80 156.14L361.53 155.20L362.27 154.27L363.02 153.35L363.77 152.43L364.54 151.54L365.32 150.65L366.11 149.78L366.90 148.93L367.72 148.09L368.54 147.27L369.38 146.48L370.23 145.70L371.09 144.95L371.97 144.22L372.87 143.52L373.78 142.85L374.71 142.20L375.65 141.58L376.62 140.99L377.60 140.44L378.60 139.92L379.61 139.43L380.64 138.97L381.69 138.54L382.76 138.13L383.83 137.75L384.92 137.39L386.03 137.06L387.14 136.75L388.26 136.46L389.39 136.18L390.53 135.93L391.68 135.68L392.83 135.46L393.99 135.24L395.16 135.04L396.32 134.84L397.49 134.65L398.67 134.47L399.84 134.30L401.01 134.13L402.18 133.96L403.35 133.79L404.52 133.62L405.69 133.45L406.85 133.27L408.01 133.09L409.17 132.90L410.32 132.70L411.47 132.50L412.61 132.28L413.74 132.05L414.87 131.80L415.99 131.54L417.10 131.26L418.20 130.96L419.30 130.64L420.38 130.30L421.45 129.93L422.51 129.54L423.56 129.13L424.60 128.68L425.62 128.21L426.63 127.70L427.63 127.17L428.61 126.60L429.58 126.01L430.53 125.39L431.48 124.75L432.41 124.08L433.33 123.38L434.23 122.67L435.13 121.93L436.01 121.17L436.88 120.39L437.73 119.59L438.58 118.77L439.41 117.93L440.23 117.07L441.04 116.20L441.84 115.32L442.62 114.42L443.40 113.51L444.16 112.58L444.92 111.65L445.66 110.70L446.39 109.75L447.11 108.78L447.82 107.81L448.52 106.83L449.21 105.85L449.89 104.86L450.57 103.86L451.23 102.87L451.89 101.87L452.55 100.88L453.20 99.88L453.86 98.90L454.51 97.91L455.17 96.93L455.84 95.96L456.51 95.00L457.19 94.04L457.88 93.10L458.58 92.18L459.29 91.26L460.02 90.36L460.76 89.48L461.52 88.62L462.30 87.78L463.10 86.96L463.93 86.16L464.78 85.38L465.65 84.63L466.56 83.91L467.49 83.22L468.45 82.55L469.45 81.92L470.48 81.31L471.55 80.75L472.64 80.22L473.76 79.74L474.90 79.33L476.03 78.99L477.15 78.75L478.26 78.61L479.33 78.58L480.36 78.67L481.35 78.91L482.27 79.29L483.14 79.80L483.97 80.43L484.74 81.17L485.48 81.99L486.18 82.89L486.85 83.84L487.50 84.84L488.12 85.87L488.73 86.91L489.33 87.95L489.91 89.00L490.49 90.05L491.05 91.10L491.60 92.15L492.14 93.21L492.66 94.27L493.18 95.34L493.68 96.41L494.18 97.48L494.66 98.55L495.14 99.63L495.60 100.71L496.05 101.79L496.50 102.87L496.93 103.96L497.36 105.05L497.77 106.14L498.18 107.24L498.58 108.33L498.97 109.43L499.35 110.53L499.72 111.64L500.09 112.74L500.45 113.85L500.80 114.96L501.14 116.07L501.48 117.18L501.81 118.30L502.13 119.42L502.44 120.54L502.75 121.66L503.06 122.78L503.35 123.90L503.64 125.03L503.93 126.16L504.21 127.28L504.49 128.41L504.76 129.55L505.02 130.68L505.28 131.81L505.54 132.95L505.79 134.08L506.04 135.22L506.28 136.36L506.52 137.50L506.76 138.64L506.99 139.78L507.22 140.92L507.45 142.06L507.68 143.20L507.90 144.35L508.12 145.49L508.34 146.64L508.56 147.78L508.77 148.93L508.99 150.07L509.20 151.22L509.41 152.37L509.62 153.51L509.83 154.66L510.04 155.81L510.25 156.95L510.45 158.10L510.66 159.25L510.87 160.39L511.08 161.54L511.28 162.69L511.49 163.84L511.69 164.98L511.90 166.13L512.10 167.28L512.31 168.43L512.51 169.58L512.71 170.72L512.92 171.87L513.12 173.02L513.32 174.17L513.52 175.32L513.72 176.46L513.92 177.61L514.12 178.76L514.32 179.91L514.52 181.06L514.72 182.21L514.92 183.36L515.12 184.50L515.32 185.65L515.51 186.80L515.71 187.95L515.91 189.10L516.10 190.25L516.30 191.40L516.50 192.55L516.69 193.70L516.89 194.84L517.08 195.99L517.28 197.14L517.47 198.29L517.66 199.44L517.86 200.59L518.05 201.74L518.24 202.89L518.43 204.04L518.62 205.19L518.82 206.34L519.01 207.49L519.20 208.64L519.39 209.79L519.58 210.94L519.77 212.09L519.96 213.24L520.15 214.39L520.33 215.54L520.52 216.69L520.71 217.84L520.90 218.99L521.09 220.14L521.27 221.29L521.46 222.44L521.65 223.59L521.83 224.74L522.02 225.89L522.20 227.04L522.39 228.19L522.57 229.34L522.76 230.49L522.94 231.65L523.13 232.80L523.31 233.95L523.50 235.10L523.68 236.25L523.86 237.40L524.05 238.55L524.23 239.70L524.41 240.85L524.59 242.00L524.77 243.15L524.96 244.30L525.14 245.46L525.32 246.61L525.50 247.76L525.68 248.91L525.86 250.06L526.04 251.21L526.22 252.36L526.40 253.51L526.58 254.66L526.76 255.82L526.94 256.97L527.12 258.12L527.30 259.27L527.47 260.42L527.65 261.57L527.83 262.72L528.01 263.87L528.19 265.03L528.36 266.18L528.54 267.33L528.72 268.48L528.89 269.63L529.07 270.78L529.25 271.93L529.42 273.09L529.60 274.24L529.78 275.39L529.95 276.54L530.13 277.69L530.30 278.84L530.48 279.99L530.65 281.15L530.83 282.30L531.00 283.45L531.18 284.60L531.35 285.75L531.53 286.90L531.70 288.05L531.88 289.21L532.05 290.36L532.22 291.51L532.40 292.66L532.57 293.81L532.74 294.96L532.92 296.12L533.09 297.27L533.26 298.42L533.44 299.57L533.61 300.72L533.78 301.87L533.95 303.02L534.13 304.18L534.30 305.33L534.47 306.48L534.64 307.63L534.82 308.78L534.99 309.93L535.16 311.08L535.33 312.24L535.50 313.39L535.68 314.54L535.85 315.69L536.02 316.84L536.19 317.99L536.36 319.14L536.53 320.29L536.71 321.45L536.88 322.60L537.05 323.75L537.22 324.90L537.39 326.05L537.56 327.20L537.73 328.35L537.90 329.50L538.07 330.65L538.24 331.81L538.42 332.96L538.59 334.11L538.76 335.26L538.93 336.41L539.10 337.56L539.27 338.71L539.44 339.86L539.62 341.01L539.79 342.16L539.96 343.31L540.14 344.46L540.31 345.61L540.49 346.76L540.66 347.91L540.84 349.06L541.01 350.21L541.19 351.36L541.37 352.51L541.55 353.66L541.73 354.81L541.91 355.96L542.09 357.11L542.27 358.26L542.46 359.41L542.64 360.56L542.83 361.70L543.01 362.85L543.20 364.00L543.39 365.15L543.58 366.30L543.77 367.44L543.97 368.59L544.16 369.74L544.36 370.88L544.55 372.03L544.75 373.18L544.95 374.32L545.16 375.47L545.36 376.62L545.56 377.76L545.77 378.91L545.98 380.05L546.19 381.20L546.41 382.34L546.62 383.48L546.84 384.63L547.06 385.77L547.28 386.91L547.50 388.06L547.72 389.20L547.95 390.34L548.18 391.48L548.41 392.62L548.65 393.77L548.88 394.91L549.12 396.05L549.36 397.19L549.61 398.33L549.85 399.47L550.10 400.61L550.35 401.74L550.61 402.88L550.86 404.02L551.12 405.16L551.39 406.30L551.65 407.43L551.92 408.57L552.19 409.71L552.46 410.84L552.74 411.98L553.02 413.11L553.30 414.24L553.59 415.38L553.88 416.51L554.17 417.65L554.47 418.78L554.77 419.91L555.07 421.04L555.37 422.17L555.68 423.30L556.00 424.43L556.31 425.56L556.63 426.69L556.96 427.82L557.28 428.95L557.61 430.08L557.95 431.20L558.28 432.33L558.63 433.46L558.97 434.58L559.32 435.71L559.68 436.83L560.03 437.96L560.39 439.08L560.76 440.20L561.13 441.32L561.50 442.45L561.88 443.57L562.27 444.69L562.66 445.80L563.06 446.91L563.49 447.99L563.95 449.06L564.45 450.09L565.00 451.08L565.60 452.03L566.26 452.93L566.98 453.77L567.78 454.54L568.64 455.25L569.56 455.87L570.53 456.40L571.54 456.84L572.57 457.17L573.62 457.39L574.68 457.49L575.74 457.45L576.79 457.29L577.83 456.99L578.85 456.58L579.85 456.07L580.83 455.46L581.79 454.78L582.72 454.02L583.61 453.21L584.48 452.35L585.30 451.47L586.09 450.55L586.85 449.62L587.57 448.66L588.27 447.69L588.96 446.71L589.62 445.72L590.27 444.73L590.92 443.73L591.56 442.73L592.20 441.74L592.84 440.75L593.49 439.76L594.16 438.78L594.83 437.82L595.53 436.86L596.24 435.91L596.98 434.98L597.75 434.05L598.55 433.15L599.39 432.26L600.25 431.41L601.15 430.59L602.07 429.83L603.02 429.13L603.99 428.50L604.98 427.96L605.99 427.51L607.02 427.17L608.06 426.94L609.11 426.83L610.17 426.83L611.23 426.93L612.29 427.12L613.35 427.41L614.40 427.77L615.44 428.22L616.47 428.73L617.48 429.31L618.47 429.94L619.44 430.62L620.38 431.35L621.28 432.12L622.16 432.91L623.00 433.73L623.81 434.58L624.59 435.45L625.34 436.34L626.08 437.25L626.79 438.18L627.48 439.12L628.16 440.07L628.83 441.03L629.49 442.00L630.15 442.98L630.80 443.96L631.44 444.94L632.09 445.92L632.75 446.89L633.41 447.87L634.08 448.83L634.76 449.78L635.45 450.72L636.16 451.65L636.89 452.57L637.62 453.48L638.37 454.38L639.12 455.28L639.88 456.16L640.65 457.04L641.42 457.92L642.20 458.80L642.98 459.67L643.75 460.54L644.53 461.41L645.30 462.28L646.07 463.16L646.83 464.04L647.59 464.92L648.33 465.81L649.07 466.71L649.79 467.62L650.51 468.53L651.21 469.45L651.89 470.39L652.57 471.33L653.23 472.27L653.88 473.23L654.52 474.20L655.15 475.17L655.77 476.15L656.37 477.13L656.96 478.13L657.54 479.13L658.12 480.14L658.68 481.15L659.23 482.17L659.76 483.20L660.29 484.23L660.81 485.27L661.32 486.31L661.82 487.36L662.31 488.42L662.78 489.48L663.25 490.55L663.71 491.62L664.16 492.69L664.60 493.77L665.03 494.85L665.46 495.94L665.87 497.04L666.27 498.13L666.67 499.23L667.06 500.33L667.44 501.44L667.81 502.55L668.17 503.66L668.53 504.78L668.88 505.89L669.22 507.01L669.55 508.14L669.88 509.26L670.19 510.39L670.51 511.51L670.81 512.64L671.11 513.77L671.40 514.90L671.68 516.04L671.96 517.17L672.23 518.30L672.50 519.44L672.76 520.57L673.01 521.71L673.26 522.84L673.50 523.98L673.74 525.11L673.97 526.24L674.20 527.38L674.42 528.51" fill="none" stroke="#000" stroke-width="2.0" stroke-dasharray="2 3.55" clip-path="url(#cp)"/>
<path d="M98.9 42.6H130.7" stroke="#000" stroke-width="2.0"/>
<path d="M98.9 68.25H130.7" stroke="#000" stroke-width="2.0" stroke-dasharray="5.6 5.4"/>
<path d="M98.8 93.7H130.7" stroke="#000" stroke-width="2.0" stroke-dasharray="2 3.55"/>
<text x="135.6" y="49.3" font-size="21.8" textLength="53.4" lengthAdjust="spacingAndGlyphs">2 pull</text>
<text x="135.6" y="74.7" font-size="21.8" textLength="53.4" lengthAdjust="spacingAndGlyphs">3 pull</text>
<text x="135.6" y="100.1" font-size="21.8" textLength="53.4" lengthAdjust="spacingAndGlyphs">4 pull</text>
<rect x="74.5" y="8.0" width="600.0" height="600.0" fill="none" stroke="#222" stroke-width="1.6"/>
</svg></body></html>
